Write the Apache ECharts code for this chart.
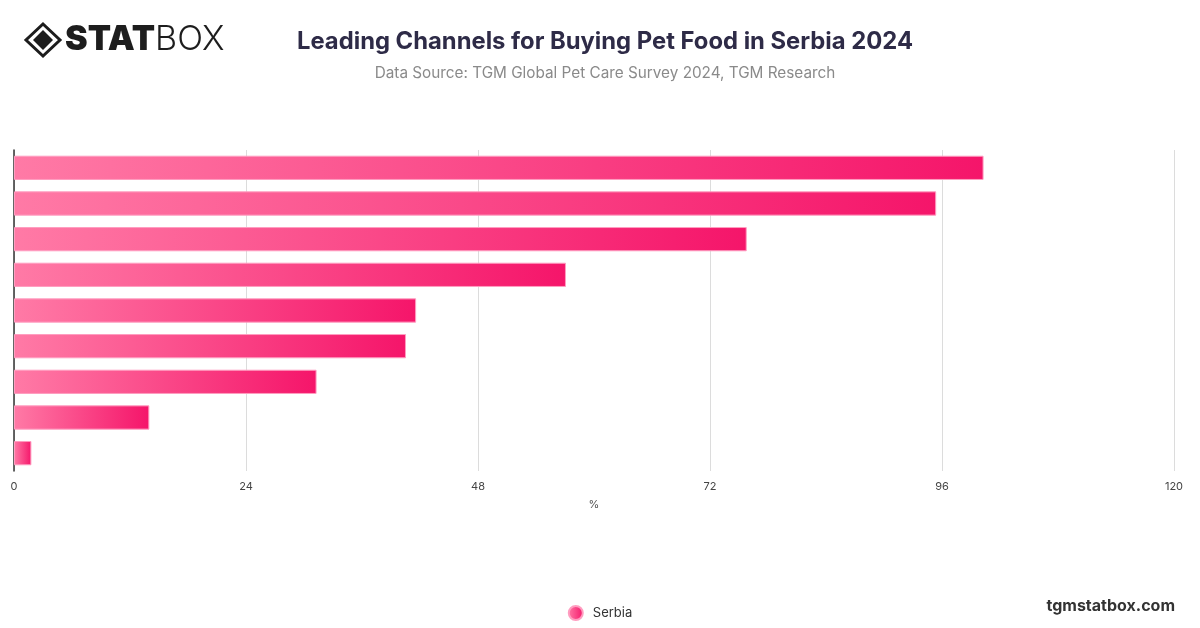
<!DOCTYPE html>
<html><head><meta charset="utf-8">
<script src="https://cdn.jsdelivr.net/npm/echarts@6/dist/echarts.min.js"></script>
<style>html,body{margin:0;padding:0;background:#fff}#c{width:1200px;height:628px}</style>
</head><body><div id="c"></div>
<script>
const categories = ["Supermarkets / hypermarkets","Pet stores","Veterinary clinics","Online pet stores","Agricultural stores","Online marketplaces","Discount stores","Convenience stores","Other"];
const serbiaValues = [100.3, 95.4, 75.8, 57.1, 41.6, 40.55, 31.3, 14.0, 1.8];
const xTicks = {min: 0, max: 120, interval: 24};

const chart = echarts.init(document.getElementById('c'));
const grad = new echarts.graphic.LinearGradient(0,0,1,0,[{offset:0,color:'#ff7aa6'},{offset:1,color:'#f5156a'}]);
chart.setOption({
  animation:false,
  title:[{text:'Leading Channels for Buying Pet Food in Serbia 2024',left:600,top:25,textAlign:'center',
    textStyle:{fontFamily:'Inter',fontSize:23.8,fontWeight:'bold',color:'#2e2b47'}},
    {text:'Data Source: TGM Global Pet Care Survey 2024, TGM Research',left:600,top:61,textAlign:'center',
    textStyle:{fontFamily:'Inter',fontSize:15.3,fontWeight:'normal',color:'#8a8a8a'}}],
  graphic:[
    {type:'polygon',shape:{points:[[43,24],[60,40],[43,56],[26,40]]},style:{fill:'none',stroke:'#1d1d1d',lineWidth:3}},
    {type:'polygon',shape:{points:[[43,30],[53,40],[43,50],[33,40]]},style:{fill:'#1d1d1d'}},
    {type:'text',left:65,top:23,style:{text:'{a|STAT}{b|BOX}',rich:{a:{fontFamily:'Inter',fontWeight:900,fontSize:34,fill:'#1d1d1d'},b:{fontFamily:'Inter',fontWeight:300,fontSize:34,fill:'#1d1d1d'}}}},
    {type:'text',right:25,top:598,style:{text:'tgmstatbox.com',font:'bold 16px Inter',fill:'#333'}}
  ],
  legend:{bottom:2,left:'center',icon:'circle',itemWidth:14,itemHeight:14,textStyle:{fontFamily:'Inter',fontSize:13,color:'#333',padding:[0,0,0,5]},data:['Serbia']},
  grid:{left:14,right:26,top:150,bottom:157,containLabel:false},
  xAxis:{type:'value',min:xTicks.min,max:xTicks.max,interval:xTicks.interval,name:'%',nameLocation:'middle',nameGap:28,
    nameTextStyle:{fontFamily:'Inter',fontSize:11,color:'#555'},
    axisLabel:{fontFamily:'Inter',fontSize:11,color:'#444',margin:10},
    splitLine:{lineStyle:{color:'#dcdcdc'}},axisLine:{show:false},axisTick:{show:false}},
  yAxis:{type:'category',data:categories,inverse:true,axisLabel:{show:false},
    axisLine:{show:true,lineStyle:{color:'#333',width:1.5}},axisTick:{show:false}},
  series:[{name:'Serbia',type:'bar',data:serbiaValues,barWidth:'68%',
    itemStyle:{color:grad,borderColor:'#ff9dc0',borderWidth:1}}]
});
</script></body></html>
